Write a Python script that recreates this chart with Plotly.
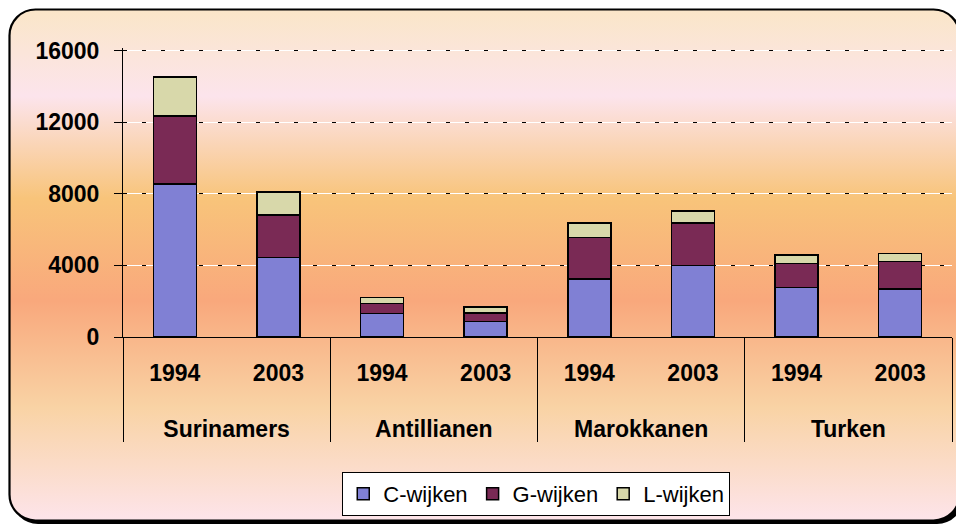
import base64
import plotly.graph_objects as go

# ---------------- data ----------------
groups = ["Surinamers", "Antillianen", "Marokkanen", "Turken"]
years = ["1994", "2003"]
series_names = ["C-wijken", "G-wijken", "L-wijken"]
c_wijken = [8550, 4450, 1320, 880, 3230, 4000, 2760, 2670]
g_wijken = [3810, 2370, 540, 450, 2330, 2360, 1340, 1540]
l_wijken = [2170, 1290, 360, 350, 800, 690, 470, 470]
y_ticks = [0, 4000, 8000, 12000, 16000]

# ---------------- styling ----------------
W, H = 964, 527
OFF = 8  # page body margin offset
ML, MT = 123 - OFF, 40
PW, PH = 829, 289
MR, MB = W - ML - PW, H - MT - PH
YMAX = 16150
colors = ["#8080D4", "#7A2A55", "#D8D8AA"]
FONT = "Liberation Sans, Arial, sans-serif"

# primary labels get an extra blank line so the group row sits lower
year_labels = [y + "<br><span style='font-size:12px'>\u00a0</span>" for y in years]
x_multi = [[g for g in groups for _ in years], [y for _ in groups for y in year_labels]]

fig = go.Figure()
for name, vals, col in zip(series_names, [c_wijken, g_wijken, l_wijken], colors):
    fig.add_trace(go.Bar(
        x=x_multi, y=vals, name=name,
        marker=dict(color=col, line=dict(color="black", width=1.5)),
    ))
# invisible trace to activate the overlay axis carrying the dashed black grid
fig.add_trace(go.Scatter(x=x_multi, y=[None] * len(x_multi[0]), yaxis="y2",
                         showlegend=False, hoverinfo="skip", mode="lines"))

svg = f'''<svg xmlns="http://www.w3.org/2000/svg" width="{W}" height="{H}" viewBox="0 0 {W} {H}">
<defs><linearGradient id="g" x1="0" y1="0" x2="0" y2="1">
<stop offset="0" stop-color="#FAE6C8"/>
<stop offset="0.17" stop-color="#FCE4EC"/>
<stop offset="0.37" stop-color="#F8C47A"/>
<stop offset="0.57" stop-color="#F9A87C"/>
<stop offset="0.78" stop-color="#F9D3A5"/>
<stop offset="1" stop-color="#FDE4EA"/>
</linearGradient></defs>
<rect x="4" y="4" width="951" height="512" rx="26" fill="#000"/>
<rect x="1.5" y="1.5" width="950" height="511" rx="26" fill="url(#g)" stroke="#000" stroke-width="2.2"/>
</svg>'''
src = "data:image/svg+xml;base64," + base64.b64encode(svg.encode()).decode()

fig.update_layout(
    width=W, height=H,
    margin=dict(l=ML, r=MR, t=MT, b=MB),
    paper_bgcolor="white", plot_bgcolor="rgba(0,0,0,0)",
    barmode="stack", bargap=0.585,
    font=dict(family=FONT, color="black"),
    images=[dict(source=src, xref="paper", yref="paper",
                 x=-ML / PW, y=(PH + MT) / PH, sizex=W / PW, sizey=H / PH,
                 xanchor="left", yanchor="top", sizing="stretch", layer="below")],
    xaxis=dict(type="multicategory", showline=True, linecolor="black", linewidth=1,
               ticks="outside", tickson="labels", ticklen=15, tickcolor="rgba(0,0,0,0)",
               showdividers=True, dividercolor="black", dividerwidth=1,
               tickfont=dict(size=23, family=FONT, weight="bold"),
               showgrid=False),
    yaxis=dict(range=[0, YMAX], tickvals=y_ticks, tickformat="d", showline=True,
               linecolor="black", linewidth=1, ticks="outside", ticklen=8,
               tickcolor="black", showgrid=True, gridcolor="white", gridwidth=1,
               zeroline=False, tickfont=dict(size=23, family=FONT, weight="bold"),
               ticklabelstandoff=10),
    yaxis2=dict(range=[0, YMAX], tickvals=y_ticks, overlaying="y", side="left",
                showgrid=True, gridcolor="black", gridwidth=1, griddash="4px,15px",
                showticklabels=False, ticks="", showline=False, zeroline=False),
    legend=dict(orientation="h", x=0.4985, xanchor="center", y=-135 / PH, yanchor="top",
                bgcolor="white", bordercolor="black", borderwidth=1,
                font=dict(size=22, family=FONT), traceorder="normal"),
    showlegend=True,
)

fig.write_html("out.html")
